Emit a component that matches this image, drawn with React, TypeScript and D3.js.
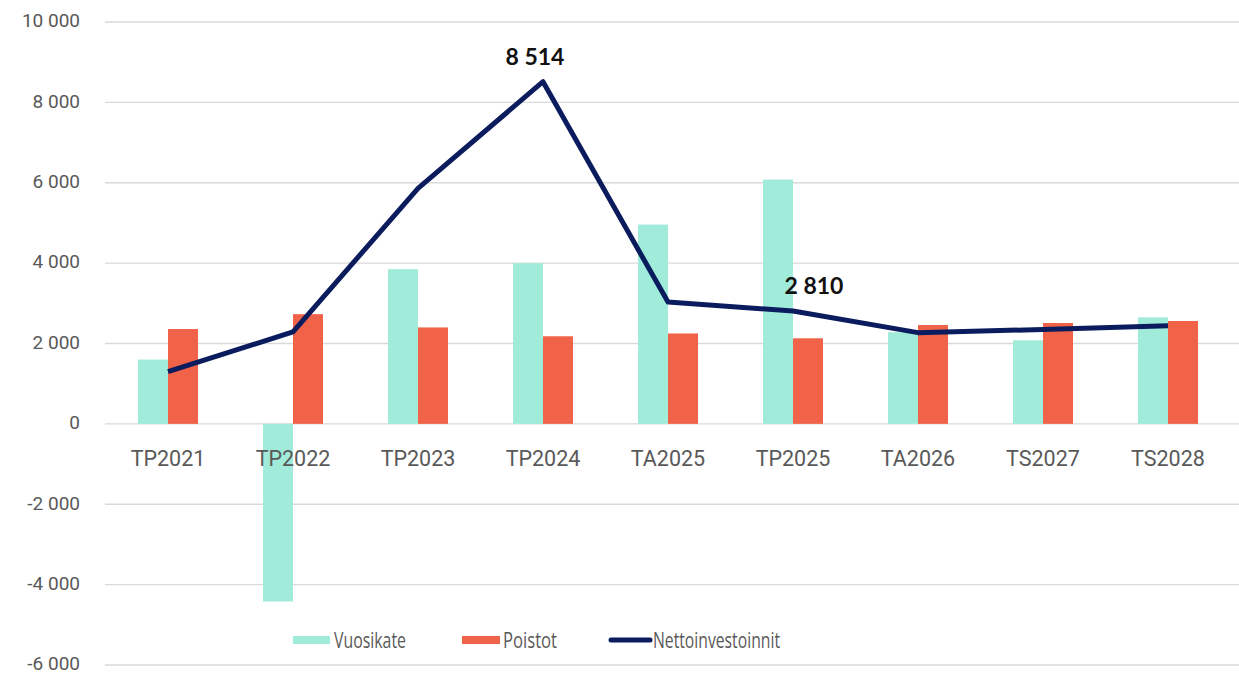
import * as d3 from "d3";
import { useEffect } from "react";

// data
const categories = ["TP2021", "TP2022", "TP2023", "TP2024", "TA2025", "TP2025", "TA2026", "TS2027", "TS2028"];
const vuosikate = [1600, -4420, 3850, 4000, 4960, 6080, 2280, 2080, 2650];
const poistot = [2360, 2730, 2400, 2180, 2250, 2130, 2460, 2510, 2560];
const netto = [1300, 2290, 5860, 8514, 3030, 2810, 2270, 2350, 2440];
const labelled = ["TP2024", "TP2025"];
const yTicks = [-6000, -4000, -2000, 0, 2000, 4000, 6000, 8000, 10000];

const W = 1239;
const H = 675;
const colors = { vuosi: "#a0ebda", poist: "#f06349", netto: "#0b1c5e", grid: "#d9d9d9", text: "#595959" };

// "8 514", "-2 000" (space thousands, plain hyphen)
const fmt = (v: number) => d3.format(",")(v).replace(/,/g, " ").replace("\u2212", "-");

export default function App() {
  useEffect(() => {
    document.body.style.margin = "0";
  }, []);

  const x = d3.scaleBand<string>().domain(categories).range([105.5, 1230.5]);
  const y = d3.scaleLinear().domain([-6000, 10000]).range([665, 22]);
  const group = x.bandwidth() * 0.48;
  const sub = d3.scaleBand<string>().domain(["v", "p"]).range([0, group]);
  const gx = (c: string) => (x(c) ?? 0) + (x.bandwidth() - group) / 2;
  const cx = (c: string) => (x(c) ?? 0) + x.bandwidth() / 2;

  const line = d3
    .line<number>()
    .x((_, i) => cx(categories[i]))
    .y((d) => y(d));

  return (
    <svg width={W} height={H} style={{ display: "block", background: "#fff" }}>
      {yTicks.map((t) => (
        <g key={t}>
          <line x1={105} x2={W} y1={y(t)} y2={y(t)} stroke={colors.grid} strokeWidth={1.3} />
          <text
            x={80}
            y={y(t)}
            dy="0.28em"
            textAnchor="end"
            fontFamily="Roboto, sans-serif"
            fontSize={19}
            fill={colors.text}
          >
            {fmt(t)}
          </text>
        </g>
      ))}
      {categories.map((c, i) => (
        <g key={c}>
          <rect
            x={gx(c) + (sub("v") ?? 0)}
            width={sub.bandwidth()}
            y={Math.min(y(0), y(vuosikate[i]))}
            height={Math.abs(y(vuosikate[i]) - y(0))}
            fill={colors.vuosi}
          />
          <rect
            x={gx(c) + (sub("p") ?? 0)}
            width={sub.bandwidth()}
            y={Math.min(y(0), y(poistot[i]))}
            height={Math.abs(y(poistot[i]) - y(0))}
            fill={colors.poist}
          />
        </g>
      ))}
      {categories.map((c) => (
        <text
          key={c}
          x={cx(c)}
          y={y(0) + 42}
          textAnchor="middle"
          fontFamily="Roboto, sans-serif"
          fontSize={21.5}
          fill={colors.text}
        >
          {c}
        </text>
      ))}
      <path d={line(netto) ?? ""} fill="none" stroke={colors.netto} strokeWidth={5} strokeLinejoin="round" />
      {categories.map((c, i) =>
        labelled.includes(c) ? (
          <text
            key={c}
            x={cx(c) + (i === 3 ? -8 : 21)}
            y={y(netto[i]) - 17}
            textAnchor="middle"
            fontFamily="Lato, sans-serif"
            fontWeight="bold"
            fontSize={23}
            fill="#111"
          >
            {fmt(netto[i])}
          </text>
        ) : null
      )}
      {/* legend */}
      <g fontFamily="'Open Sans', sans-serif" fontSize={21} fill={colors.text}>
        <rect x={293} y={636} width={37} height={8} fill={colors.vuosi} />
        <text x={334} y={641} dy="0.35em" textLength={72} lengthAdjust="spacingAndGlyphs">Vuosikate</text>
        <rect x={462} y={636} width={38} height={8} fill={colors.poist} />
        <text x={503} y={641} dy="0.35em" textLength={54} lengthAdjust="spacingAndGlyphs">Poistot</text>
        <line x1={611} x2={650} y1={640} y2={640} stroke={colors.netto} strokeWidth={5} strokeLinecap="round" />
        <text x={653} y={641} dy="0.35em" textLength={127} lengthAdjust="spacingAndGlyphs">Nettoinvestoinnit</text>
      </g>
    </svg>
  );
}
